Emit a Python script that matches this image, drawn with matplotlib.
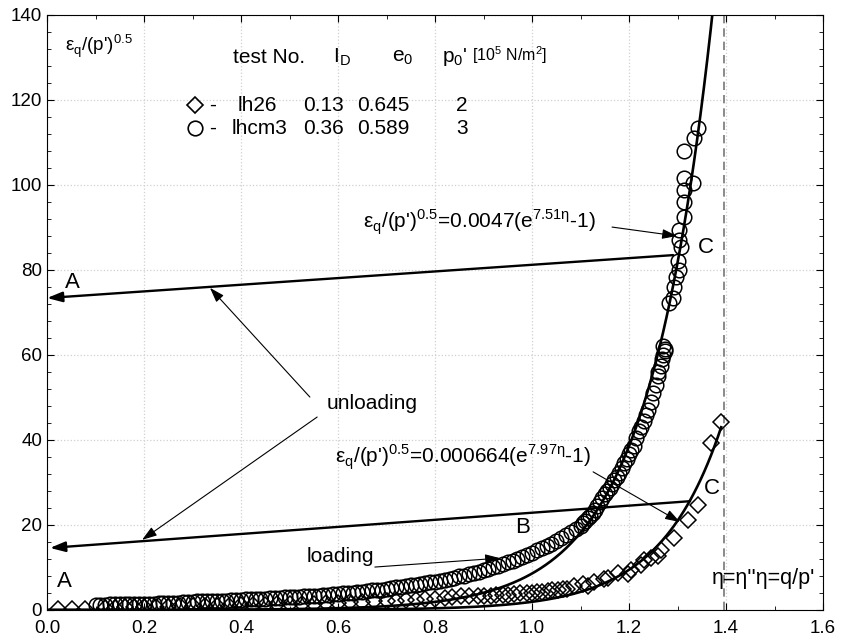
import numpy as np
import matplotlib
matplotlib.use("Agg")
import matplotlib.pyplot as plt
from matplotlib.ticker import MultipleLocator

plt.rcParams['font.family'] = ['Liberation Sans', 'DejaVu Sans']
plt.rcParams['mathtext.fontset'] = 'custom'
plt.rcParams['mathtext.rm'] = 'Liberation Sans'

# test lhcm3 (circles): eta = q/p', eps_q/(p')^0.5
eta_lhcm3 = [0.10, 0.12, 0.14, 0.16, 0.18, 0.20, 0.22, 0.24, 0.26, 0.28,
             0.30, 0.32, 0.34, 0.36, 0.38, 0.40, 0.42, 0.44, 0.46, 0.48,
             0.50, 0.52, 0.54, 0.56, 0.58, 0.60, 0.62, 0.64, 0.66, 0.68,
             0.70, 0.72, 0.74, 0.76, 0.78, 0.80, 0.82, 0.84, 0.86, 0.88,
             0.90, 0.92, 0.94, 0.96, 0.98, 1.00, 1.02, 1.04, 1.06, 1.08,
             1.10, 1.11, 1.12, 1.13, 1.14, 1.15, 1.16, 1.17, 1.18, 1.19,
             1.20, 1.21, 1.215, 1.22, 1.23, 1.24, 1.245, 1.25, 1.255, 1.26,
             1.265, 1.27, 1.275, 1.27, 1.282, 1.29, 1.292, 1.296, 1.303, 1.30,
             1.307, 1.303, 1.303, 1.313, 1.313, 1.313, 1.331, 1.313, 1.313, 1.334,
             1.342,
             0.11, 0.13, 0.15, 0.17, 0.19, 0.21, 0.23, 0.25, 0.27, 0.29,
             0.31, 0.33, 0.35, 0.37, 0.39, 0.41, 0.43, 0.45, 0.47, 0.49,
             0.51, 0.53, 0.55, 0.57, 0.59, 0.61, 0.63, 0.65, 0.67, 0.69,
             0.71, 0.73, 0.75, 0.77, 0.79, 0.81, 0.83, 0.85, 0.87, 0.89,
             0.91, 0.93, 0.95, 0.97, 0.99, 1.01, 1.03, 1.05, 1.07, 1.09,
             1.105, 1.115, 1.125, 1.135, 1.145, 1.155, 1.165, 1.175, 1.185, 1.195,
             1.205, 1.225, 1.235, 1.26, 1.268, 1.274]
eps_lhcm3 = [1.2, 1.2, 1.3, 1.3, 1.4, 1.5, 1.5, 1.6, 1.7, 1.8,
             1.9, 2.0, 2.1, 2.2, 2.3, 2.4, 2.5, 2.6, 2.8, 2.9,
             3.0, 3.1, 3.3, 3.4, 3.6, 3.8, 4.0, 4.2, 4.4, 4.7,
             5.0, 5.3, 5.6, 5.9, 6.3, 6.7, 7.1, 7.6, 8.1, 8.7,
             9.3, 10.0, 10.8, 11.6, 12.5, 13.5, 14.5, 15.6, 16.9, 18.3,
             19.8, 21.0, 22.2, 23.6, 25.5, 27.2, 28.8, 30.5, 32.3, 34.5,
             36.8, 38.5, 40.5, 42.0, 44.5, 47.0, 49.0, 51.0, 53.0, 55.0,
             57.5, 60.0, 61.5, 62.0, 72.2, 73.5, 76.0, 78.4, 80.0, 82.0,
             85.4, 87.0, 89.4, 92.5, 96.0, 98.8, 100.5, 101.6, 108.0, 111.0,
             113.4,
             1.2, 1.3, 1.3, 1.4, 1.4, 1.5, 1.6, 1.6, 1.7, 1.8,
             2.0, 2.0, 2.2, 2.2, 2.4, 2.5, 2.5, 2.7, 2.8, 3.0,
             3.1, 3.2, 3.4, 3.5, 3.7, 3.9, 4.1, 4.3, 4.6, 4.8,
             5.2, 5.4, 5.8, 6.1, 6.5, 6.9, 7.4, 7.9, 8.4, 9.0,
             9.7, 10.4, 11.2, 12.0, 13.0, 14.0, 15.0, 16.2, 17.6, 19.0,
             20.4, 21.6, 22.9, 24.5, 26.3, 28.0, 29.6, 31.4, 33.4, 35.6,
             37.6, 43.0, 45.8, 56.0, 59.0, 61.0]

# test lh26 (diamonds)
eta_lh26 = [0.023, 0.052, 0.078, 0.12, 0.16, 0.20, 0.25, 0.30, 0.35, 0.40,
            0.45, 0.50, 0.55, 0.60, 0.65, 0.70, 0.74, 0.78, 0.82, 0.853,
            0.888, 0.915, 0.94, 0.962, 0.99, 1.01, 1.032, 1.053, 1.073, 1.086,
            1.106, 1.115, 1.127, 1.148, 1.156, 1.177, 1.197, 1.204, 1.224, 1.23,
            1.245, 1.26, 1.265, 1.292, 1.321, 1.342, 1.369, 1.389,
            0.14, 0.18, 0.225, 0.275, 0.325, 0.375, 0.425, 0.475, 0.525, 0.575,
            0.625, 0.675, 0.72, 0.76, 0.80, 0.835, 0.87, 0.90, 0.925, 0.95,
            0.975, 1.0, 1.02, 1.042, 1.063]
eps_lh26 = [0.3, 0.3, 0.3, 0.5, 0.6, 0.7, 0.8, 0.9, 1.0, 1.1,
            1.2, 1.4, 1.5, 1.7, 1.9, 2.1, 2.3, 2.6, 2.8, 3.2,
            3.3, 3.4, 3.6, 3.7, 4.1, 4.2, 4.5, 4.8, 5.0, 5.6,
            6.2, 5.6, 6.5, 7.3, 7.6, 8.8, 8.4, 9.4, 10.6, 11.8,
            12.2, 12.8, 14.1, 16.9, 21.2, 24.7, 39.3, 44.2,
            0.55, 0.65, 0.75, 0.85, 0.95, 1.05, 1.15, 1.3, 1.45, 1.6,
            1.8, 2.0, 2.2, 2.45, 2.7, 3.0, 3.2, 3.3, 3.5, 3.6,
            3.9, 4.1, 4.3, 4.6, 4.9]

# fitted curves eps_q/(p')^0.5 = a (exp(b eta) - 1)
a_lhcm3, b_lhcm3 = 0.0047, 7.51
a_lh26, b_lh26 = 0.000664, 7.97
eta_limit = 1.395

fig = plt.figure(figsize=(8.41, 6.41), dpi=100)
ax = fig.add_axes([0.0559, 0.0484, 0.9227, 0.9282])

eta1 = np.linspace(0, 1.40, 400)
eta2 = np.linspace(0, 1.39, 400)
ax.plot(eta1, a_lhcm3 * (np.exp(b_lhcm3 * eta1) - 1), color='k', lw=1.9, zorder=3)
ax.plot(eta2, a_lh26 * (np.exp(b_lh26 * eta2) - 1), color='k', lw=1.9, zorder=3)

ax.plot(eta_lhcm3, eps_lhcm3, 'o', ms=10.5, mfc='none', mec='k', mew=1.1, zorder=4)
ax.plot(eta_lh26, eps_lh26, 'D', ms=8.5, mfc='none', mec='k', mew=1.1, zorder=4)

ax.axvline(eta_limit, color='#777777', ls=(0, (5, 3)), lw=1.2, zorder=2)

ax.set_xlim(0, 1.6)
ax.set_ylim(0, 140)
ax.xaxis.set_major_locator(MultipleLocator(0.2))
ax.xaxis.set_minor_locator(MultipleLocator(0.1))
ax.yaxis.set_major_locator(MultipleLocator(20))
ax.yaxis.set_minor_locator(MultipleLocator(4))
ax.set_xticklabels([f"{v:.1f}" for v in ax.get_xticks()])
ax.tick_params(which='both', direction='in', top=True, right=True, labelsize=13.5)
ax.tick_params(which='major', length=5)
ax.tick_params(which='minor', length=3)
ax.tick_params(axis='x', pad=7)
ax.grid(True, which='major', color='#d0d0d0', ls=':', lw=0.9)
ax.set_axisbelow(True)

fs = 15
ax.text(0.037, 132.7, r"ε$_\mathregular{q}$/(p')$^\mathregular{0.5}$", fontsize=13.5, va='center')
ax.text(0.384, 130, "test No.", fontsize=fs, va='center')
ax.text(0.59, 130, r"I$_\mathregular{D}$", fontsize=fs, va='center')
ax.text(0.711, 130, r"e$_\mathregular{0}$", fontsize=fs, va='center')
ax.text(0.814, 130, r"p$_\mathregular{0}$'", fontsize=fs, va='center')
ax.text(0.876, 130.5, r"[10$^\mathregular{5}$ N/m$^\mathregular{2}$]", fontsize=11.5, va='center')

rows = [('D', 8.5, 118.8, ['lh26', '0.13', '0.645', '2'], 0.392),
        ('o', 10.5, 113.4, ['lhcm3', '0.36', '0.589', '3'], 0.381)]
for mk, ms, y, vals, xname in rows:
    ax.plot([0.305], [y], mk, ms=ms, mfc='none', mec='k', mew=1.2, clip_on=False)
    ax.text(0.334, y, "-", fontsize=fs, va='center')
    for x, s in zip([xname, 0.528, 0.639, 0.843], vals):
        ax.text(x, y, s, fontsize=fs, va='center')

ax.text(0.652, 91.3, r"ε$_\mathregular{q}$/(p')$^\mathregular{0.5}$=0.0047(e$^\mathregular{7.51η}$-1)",
        fontsize=fs, va='center')
ax.text(0.594, 36, r"ε$_\mathregular{q}$/(p')$^\mathregular{0.5}$=0.000664(e$^\mathregular{7.97η}$-1)",
        fontsize=fs, va='center')
ax.text(0.577, 48.7, "unloading", fontsize=fs, va='center')
ax.text(0.536, 12.5, "loading", fontsize=fs, va='center')
ax.text(1.371, 7.5, "η=η''η=q/p'", fontsize=15.5, va='center')
for x, y, s in [(0.052, 77, 'A'), (0.035, 6.6, 'A'), (0.981, 19.5, 'B'),
                (1.359, 85.4, 'C'), (1.371, 28.7, 'C')]:
    ax.text(x, y, s, fontsize=16, ha='center', va='center')

thick = dict(arrowstyle='-|>,head_length=0.9,head_width=0.3', color='k', lw=1.7,
             shrinkA=0, shrinkB=0)
thin = dict(arrowstyle='-|>,head_length=0.9,head_width=0.3', color='k', lw=0.8,
            shrinkA=0, shrinkB=0)
ax.annotate('', xy=(0.0, 73.4), xytext=(1.291, 83.5), arrowprops=thick)
ax.annotate('', xy=(0.006, 14.6), xytext=(1.326, 25.6), arrowprops=thick)
ax.annotate('', xy=(1.299, 88.0), xytext=(1.165, 90.1), arrowprops=thin)
ax.annotate('', xy=(1.305, 20.7), xytext=(1.126, 32.5), arrowprops=thin)
ax.annotate('', xy=(0.336, 75.8), xytext=(0.542, 50.1), arrowprops=thin)
ax.annotate('', xy=(0.196, 16.5), xytext=(0.557, 45.4), arrowprops=thin)
ax.annotate('', xy=(0.934, 12.2), xytext=(0.676, 10.1), arrowprops=thin)

fig.savefig('out.png', dpi=100)
